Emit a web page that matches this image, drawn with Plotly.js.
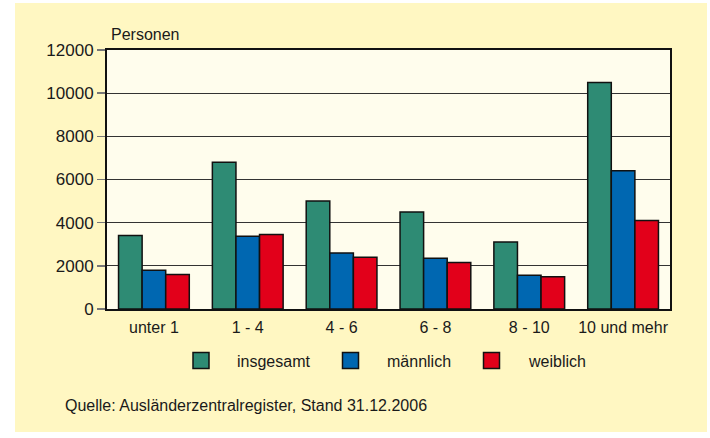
<!DOCTYPE html>
<html>
<head>
<meta charset="utf-8">
<script src="https://cdn.plot.ly/plotly-3.0.1.min.js"></script>
<style>
  html, body { margin: 0; padding: 0; background: #ffffff; width: 710px; height: 438px; overflow: hidden; }
  #chart { position: absolute; left: 15px; top: 3px; width: 692px; height: 429px; }
</style>
</head>
<body>
<div id="chart"></div>
<script>
const categories = ["unter 1", "1 - 4", "4 - 6", "6 - 8", "8 - 10", "10 und mehr"];
const seriesNames = ["insgesamt", "männlich", "weiblich"];
const insgesamt = [3400, 6800, 5000, 4500, 3100, 10500];
const maennlich = [1800, 3370, 2600, 2350, 1560, 6400];
const weiblich = [1600, 3450, 2400, 2150, 1500, 4100];
const yTicks = [0, 2000, 4000, 6000, 8000, 10000, 12000];
const colors = ["#2e8b74", "#0067b1", "#e2001a"];
const yTitle = "Personen";
const source = "Quelle: Ausländerzentralregister, Stand 31.12.2006";

const values = [insgesamt, maennlich, weiblich];
const font = "Liberation Sans, Arial, sans-serif";
const txt = "#1a1a1a";

const traces = values.map((v, i) => ({
  type: "bar",
  name: seriesNames[i],
  x: categories,
  y: v,
  marker: { color: colors[i], line: { color: "#111111", width: 1.5 } },
  hoverinfo: "x+y+name"
}));

// plot area in page pixels: left 107, right 670, top 50, bottom 309
const PL = 107, PW = 563, PB = 309, PH = 259;
const px = x => (x - PL) / PW;
const py = y => (PB - y) / PH;

const legendSquares = [[193, 209], [342.5, 358.5], [483.5, 499.5]];
const legendText = [235, 385, 526];
const shapes = [];
const annotations = [];
legendSquares.forEach((s, i) => {
  shapes.push({
    type: "rect", xref: "paper", yref: "paper",
    x0: px(s[0]), x1: px(s[1]), y0: py(368.5), y1: py(352.5),
    fillcolor: colors[i], line: { color: "#111111", width: 1.5 }
  });
  annotations.push({
    xref: "paper", yref: "paper", x: px(legendText[i]), y: py(361),
    xanchor: "left", yanchor: "middle", showarrow: false,
    text: seriesNames[i], font: { family: font, size: 16, color: txt }
  });
});
annotations.push({
  xref: "paper", yref: "paper", x: px(109), y: py(45),
  xanchor: "left", yanchor: "bottom", showarrow: false,
  text: yTitle, font: { family: font, size: 16, color: txt }
});
annotations.push({
  xref: "paper", yref: "paper", x: px(63), y: py(405),
  xanchor: "left", yanchor: "middle", showarrow: false,
  text: source, font: { family: font, size: 16, color: txt }
});

const layout = {
  width: 692, height: 429,
  margin: { l: 92, r: 37, t: 47, b: 123, pad: 0 },
  paper_bgcolor: "#fff7c2",
  plot_bgcolor: "#fffded",
  barmode: "group",
  bargap: 0.246,
  bargroupgap: 0,
  showlegend: false,
  font: { family: font, size: 16, color: txt },
  xaxis: {
    type: "category",
    showline: true, linecolor: "#111111", linewidth: 2, mirror: true,
    ticks: "", showgrid: false,
    tickfont: { family: font, size: 16, color: txt },
    ticklabelstandoff: 3,
    fixedrange: true
  },
  yaxis: {
    range: [0, 12000],
    tickvals: yTicks,
    ticktext: yTicks.map(String),
    showline: true, linecolor: "#111111", linewidth: 2, mirror: true,
    ticks: "outside", ticklen: 8, tickwidth: 1.5, tickcolor: "#777777",
    showgrid: true, gridcolor: "#333333", gridwidth: 1,
    zeroline: false,
    tickfont: { family: font, size: 17, color: txt },
    fixedrange: true
  },
  shapes: shapes,
  annotations: annotations
};

Plotly.newPlot("chart", traces, layout, { displayModeBar: false, staticPlot: true });
</script>
</body>
</html>
